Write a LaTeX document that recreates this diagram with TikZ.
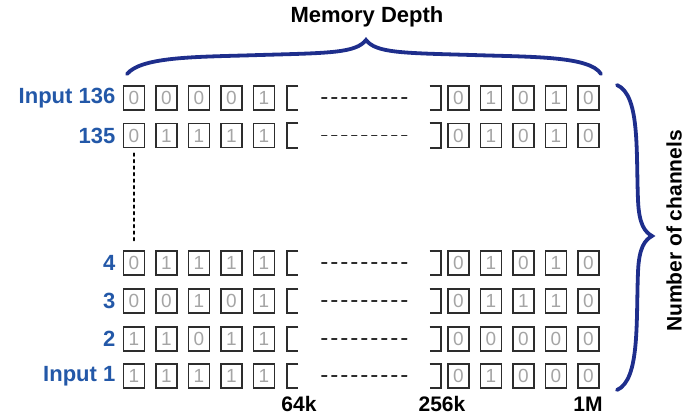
\documentclass[tikz,border=0pt]{standalone}
\usepackage{fontspec}
\setmainfont{Liberation Sans}
\usetikzlibrary{positioning}

\definecolor{chanblue}{RGB}{35,88,168}
\definecolor{bracenavy}{RGB}{30,46,140}
\definecolor{cellgray}{RGB}{165,165,165}
\definecolor{edgegray}{RGB}{45,45,45}

\begin{document}
\begin{tikzpicture}[
            x = 1pt, y = -1pt, % pixel units, y runs down
            line cap = round,
            semithick % line style
        ]

        \tikzstyle{cell}=[
            draw = edgegray,
            line width = 1.8pt,
            minimum width = 21pt,
            minimum height = 24pt,
            inner sep = 0pt,
            text = cellgray,
            font = \fontsize{19}{19}\selectfont
        ]
        \tikzstyle{gap}=[minimum width = 11pt, minimum height = 24pt, inner sep = 0pt]
        \tikzstyle{cellline}=[draw = edgegray, line width = 1.8pt, line cap = butt]
        \tikzstyle{chan}=[text = chanblue, font = \fontsize{22}{22}\selectfont\bfseries, inner sep = 0pt]
        \tikzstyle{title}=[font = \fontsize{21}{21}\selectfont\bfseries, inner sep = 0pt]
        \tikzstyle{brace}=[draw = bracenavy, line width = 3.8pt]

        \useasboundingbox (0,0) rectangle (686,417);

        % rows: name / y / first five bits / last five bits
        \foreach \r/\y/\lbits/\rbits in {136/98/{0,0,0,0,1}/{0,1,0,1,0},
                                          135/135.5/{0,1,1,1,1}/{0,1,0,1,0},
                                          4/263/{0,1,1,1,1}/{0,1,0,1,0},
                                          3/301/{0,0,1,0,1}/{0,1,1,1,0},
                                          2/339/{1,1,0,1,1}/{0,0,0,0,0},
                                          1/376/{1,1,1,1,1}/{0,1,0,0,0}} {
            \foreach \b [count=\i] in \lbits
                \node[cell] (c\r-\i) at ({134+32.5*(\i-1)},\y) {\b};
            \foreach \b [count=\i] in \rbits
                \node[cell] (d\r-\i) at ({458.5+32.5*(\i-1)},\y) {\b};
            \node[gap] (lb\r) at (292.5,\y) {};
            \node[gap] (rb\r) at (435.5,\y) {};
            \draw[cellline] (lb\r.north east) -- (lb\r.north west) -- (lb\r.south west) -- (lb\r.south east);
            \draw[cellline] (rb\r.north west) -- (rb\r.north east) -- (rb\r.south east) -- (rb\r.south west);
            \path[draw = edgegray, line width = 1.4pt, dash pattern = on 5pt off 5pt,
                  shorten <= 23.5pt, shorten >= 20.5pt] (lb\r) -- (rb\r);
        }

        \node[chan, left=7pt of c136-1] (in136) {Input 136};
        \node[chan, left=7pt of c135-1] (in135) {135};
        \node[chan, left=7pt of c4-1] (in4) {4};
        \node[chan, left=7pt of c3-1] (in3) {3};
        \node[chan, left=7pt of c2-1] (in2) {2};
        \node[chan, left=7pt of c1-1] (in1) {Input 1};

        \path[draw = black, line width = 2pt, dash pattern = on 2.5pt off 4pt,
              shorten <= 5pt, shorten >= 8pt] (c135-1.south) -- (c4-1.north);

        \node[title] (k64) at (299,404) {64k};
        \node[title] (k256) at (442,404) {256k};
        \node[title] (m1) at (588,404) {1M};

        % braces
        \draw[brace] (127,74) .. controls (142,56) and (200,57) .. (260,55)
            .. controls (330,53) and (356,53) .. (366,40)
            .. controls (376,53) and (402,53) .. (472,55)
            .. controls (532,57) and (590,56) .. (601,74);
        \node[title, font = \fontsize{22}{22}\selectfont\bfseries] (depth) at (367,17) {Memory Depth};

        \draw[brace] (617,85) .. controls (640,95) and (636,150) .. (638,200)
            .. controls (639,225) and (645,232) .. (652,236)
            .. controls (645,240) and (639,247) .. (638,272)
            .. controls (636,322) and (640,380) .. (617,390);
        \node[title, rotate=90] (channels) at (674,231) {Number of channels};

    \end{tikzpicture}
\end{document}
